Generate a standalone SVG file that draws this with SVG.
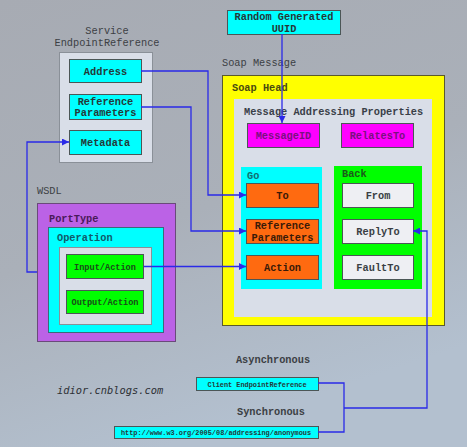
<svg xmlns="http://www.w3.org/2000/svg" width="467" height="447" viewBox="0 0 467 447">
  <defs>
    <linearGradient id="bg" x1="0" y1="0" x2="0.35" y2="1">
      <stop offset="0" stop-color="#a7abb3"/>
      <stop offset="0.55" stop-color="#aab0b9"/>
      <stop offset="1" stop-color="#b3c0cf"/>
    </linearGradient>
    <marker id="arrow" viewBox="0 0 8 8" refX="8" refY="4" markerWidth="7" markerHeight="7" markerUnits="userSpaceOnUse" orient="auto">
      <path d="M0,0 L8,4 L0,8 Z" fill="#2a2ae8"/>
    </marker>
    <style>
      text { font-family: "Liberation Mono", "Courier New", monospace; font-size: 10.3px; }
      .b { font-weight: bold; }
      .c { text-anchor: middle; }
      .box { stroke: #4b5656; stroke-width: 1; }
      .cyan { fill: #00ffff; }
      .mag { fill: #ff00ff; }
      .orange { fill: #ff6a10; }
      .green { fill: #00ff00; }
      .pale { fill: #eeeff3; }
      .panel { fill: #d9dee8; stroke: #8a9098; stroke-width: 1; }
      .small { font-size: 6.9px; font-weight: bold; }
      .conn path { fill: none; stroke: #2a2ae8; stroke-width: 1.3; }
    </style>
  </defs>

  <rect width="467" height="447" fill="url(#bg)"/>

  <!-- Service EndpointReference -->
  <g id="service-epr">
    <text class="c" x="107" y="34" fill="#3c3f44">Service</text>
    <text class="c" x="107" y="46" fill="#3c3f44">EndpointReference</text>
    <rect class="panel" x="59.5" y="52.5" width="93" height="110"/>
  </g>
  <g id="address">
    <rect class="box cyan" x="69.5" y="59.5" width="72" height="23"/>
    <text class="b c" x="105.5" y="74.5" fill="#243838">Address</text>
  </g>
  <g id="epr-refparams">
    <rect class="box cyan" x="69.5" y="94.5" width="72" height="25"/>
    <text class="b c" x="105.5" y="104.5" fill="#243838">Reference</text>
    <text class="b c" x="105.5" y="116" fill="#243838">Parameters</text>
  </g>
  <g id="metadata">
    <rect class="box cyan" x="69.5" y="130.5" width="72" height="24"/>
    <text class="b c" x="105.5" y="146" fill="#243838">Metadata</text>
  </g>

  <!-- Random Generated UUID -->
  <g id="uuid">
    <rect class="box cyan" x="227.5" y="10.5" width="113" height="24"/>
    <text class="b c" x="284" y="20" fill="#243838">Random Generated</text>
    <text class="b c" x="284" y="31.5" fill="#243838">UUID</text>
  </g>

  <!-- Soap Message -->
  <g id="soap-message">
    <text x="222" y="66" fill="#3c3f44">Soap Message</text>
    <rect x="222.5" y="75.5" width="222" height="250" fill="#ffff00" stroke="#5a5a2a" stroke-width="1"/>
    <text class="b" x="232" y="91" fill="#4a4a10">Soap Head</text>
    <rect x="234" y="99" width="198" height="218" fill="#d9dee8"/>
    <text class="b" x="244" y="114.5" fill="#3a3f48">Message Addressing Properties</text>
  </g>
  <g id="messageid">
    <rect class="box mag" x="247.5" y="123.5" width="72" height="24"/>
    <text class="b c" x="283.5" y="139" fill="#7a1080">MessageID</text>
  </g>
  <g id="relatesto">
    <rect class="box mag" x="341.5" y="123.5" width="72" height="24"/>
    <text class="b c" x="377.5" y="139" fill="#7a1080">RelatesTo</text>
  </g>

  <!-- Go -->
  <g id="go">
    <rect x="241" y="167" width="81" height="122" fill="#00ffff"/>
    <text class="b" x="247" y="179" fill="#107070">Go</text>
  </g>
  <g id="to">
    <rect class="box orange" x="246.5" y="183.5" width="72" height="24"/>
    <text class="b c" x="282.5" y="199" fill="#3a1a08">To</text>
  </g>
  <g id="go-refparams">
    <rect class="box orange" x="246.5" y="219.5" width="72" height="24"/>
    <text class="b c" x="282.5" y="229" fill="#3a1a08">Reference</text>
    <text class="b c" x="282.5" y="240.5" fill="#3a1a08">Parameters</text>
  </g>
  <g id="action">
    <rect class="box orange" x="246.5" y="255.5" width="72" height="24"/>
    <text class="b c" x="282.5" y="271" fill="#3a1a08">Action</text>
  </g>

  <!-- Back -->
  <g id="back">
    <rect x="334" y="166" width="88" height="123" fill="#00ff00"/>
    <text class="b" x="342" y="177" fill="#1a5a1a">Back</text>
  </g>
  <g id="from">
    <rect class="box pale" x="342.5" y="183.5" width="71" height="24"/>
    <text class="b c" x="378" y="199" fill="#3a3f44">From</text>
  </g>
  <g id="replyto">
    <rect class="box pale" x="342.5" y="219.5" width="71" height="24"/>
    <text class="b c" x="378" y="235" fill="#3a3f44">ReplyTo</text>
  </g>
  <g id="faultto">
    <rect class="box pale" x="342.5" y="255.5" width="71" height="24"/>
    <text class="b c" x="378" y="271" fill="#3a3f44">FaultTo</text>
  </g>

  <!-- WSDL -->
  <g id="wsdl">
    <text x="37" y="194" fill="#3c3f44">WSDL</text>
    <rect x="37.5" y="203.5" width="138" height="138" fill="#bb62e6" stroke="#6a4a7a" stroke-width="1"/>
    <text class="b" x="49" y="222" fill="#4a1a5a">PortType</text>
  </g>
  <g id="operation">
    <rect x="48.5" y="227.5" width="115" height="105" fill="#00ffff" stroke="#3a6a7a" stroke-width="1"/>
    <text class="b" x="57" y="241" fill="#105a6a">Operation</text>
    <rect class="panel" x="59.5" y="247.5" width="92" height="77"/>
  </g>
  <g id="input-action">
    <rect class="box green" x="66.5" y="254.5" width="77" height="24"/>
    <text class="b c" x="105" y="269.5" fill="#1a4a1a" style="font-size:8.6px">Input/Action</text>
  </g>
  <g id="output-action">
    <rect class="box green" x="66.5" y="290.5" width="77" height="23"/>
    <text class="b c" x="105" y="305" fill="#1a4a1a" style="font-size:8.6px">Output/Action</text>
  </g>

  <!-- Reply options -->
  <g id="asynchronous">
    <text class="b c" x="273" y="363" fill="#3c3f44">Asynchronous</text>
  </g>
  <g id="client-epr">
    <rect class="box cyan" x="196.5" y="377.5" width="122" height="13"/>
    <text class="small c" x="257" y="386.5" fill="#243838">Client EndpointReference</text>
  </g>
  <g id="synchronous">
    <text class="b c" x="271" y="415" fill="#3c3f44">Synchronous</text>
  </g>
  <g id="anonymous">
    <rect class="box cyan" x="114.5" y="426.5" width="204" height="12"/>
    <text class="small c" x="216" y="435" fill="#243838">http://www.w3.org/2005/08/addressing/anonymous</text>
  </g>

  <text x="57" y="394" fill="#2e3136" style="font-family:'DejaVu Sans Mono','Liberation Mono',monospace;font-style:italic;font-size:10.4px">idior.cnblogs.com</text>

  <!-- connectors -->
  <g id="connectors" class="conn">
    <path d="M37,272 H27 V142 H69" marker-end="url(#arrow)"/>
    <path d="M141,71 H208 V195 H246" marker-end="url(#arrow)"/>
    <path d="M141,107 H191 V231 H246" marker-end="url(#arrow)"/>
    <path d="M144,266.5 H246" marker-end="url(#arrow)"/>
    <path d="M282,34 V123" marker-end="url(#arrow)"/>
    <path d="M318,383 H344 V432 H318"/>
    <path d="M344,408 H427 V231 H413" marker-end="url(#arrow)"/>
  </g>
</svg>
